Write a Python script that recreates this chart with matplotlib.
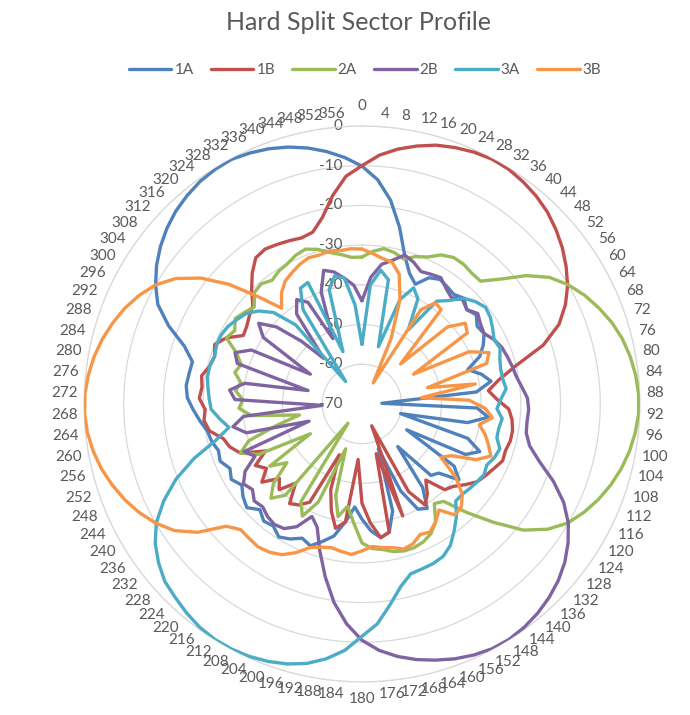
import matplotlib
matplotlib.use("Agg")
import matplotlib.pyplot as plt
import numpy as np

plt.rcParams['font.family'] = ['Lato', 'DejaVu Sans']

# ---------------- data ----------------
angles = list(range(0, 360, 4))          # category labels 0..356
r_ticks = [0, -10, -20, -30, -40, -50, -60, -70]
series_names = ['1A', '1B', '2A', '2B', '3A', '3B']

s1A = [-10.1, -13.4, -18.2, -24.5, -31, -35, -37, -34, -33, -33.5,
       -34, -33, -34.5, -33.5, -35, -34.5, -36, -38, -42, -39,
       -37, -41, -65, -41, -38, -43, -60, -42, -38, -41,
       -57, -42, -39, -44, -45, -56, -44, -39, -40, -46,
       -58, -42, -37, -36, -38, -41, -44, -40, -36, -34,
       -32, -33, -31.5, -30.5, -32, -31.5, -33, -31, -32, -33.5,
       -32, -33, -31.5, -32, -31, -30.5, -29, -27.5, -26, -25.5,
       -25.8, -26, -23, -17.5, -12.8, -10, -7.6, -5.6, -3.9, -2.5,
       -1.5, -0.7, -0.3, -0.2, -0.8, -1.6, -2.7, -4.1, -5.8, -7.8]

s1B = [-10, -7.2, -5.2, -3.6, -2.2, -1.3, -0.6, -0.2, -0.3, -0.9,
       -1.7, -2.8, -4.3, -6, -8, -10.2, -13, -16.5, -22, -30,
       -35, -38, -36, -33, -32, -31.5, -31.5, -32, -31.8, -33,
       -34, -35, -37, -39, -40, -45, -42, -40, -45, -64,
       -40, -57, -37, -36, -40, -45, -56, -40, -38, -42,
       -47, -56, -42, -40, -39, -44, -40, -42, -38, -41,
       -39, -43, -37, -35, -34, -31, -30, -30.5, -29, -29.5,
       -29, -30.5, -31, -30, -32, -35.5, -35, -34, -33, -30,
       -27, -24.5, -24, -24.5, -25, -25.5, -25, -22, -17, -12.5]

s2A = [-33, -31.5, -30.5, -31, -32, -30.5, -29.5, -27.5, -26.5, -26.5,
       -27, -27, -23, -17.5, -13, -10, -7.6, -5.6, -3.8, -2.4,
       -1.4, -0.7, -0.3, -0.3, -0.8, -1.6, -2.7, -4.1, -5.8, -7.8,
       -10.1, -13.6, -18.4, -25.5, -32, -38, -39, -35, -33, -32,
       -31.5, -31.5, -32, -33, -33.5, -35, -40, -44, -41, -46,
       -58, -43, -38, -41, -64, -40, -37, -40, -46, -42,
       -55, -41, -37, -40, -48, -54, -42, -39, -40, -38,
       -39, -37, -38, -36, -32, -33, -31.5, -32.5, -33.5, -31,
       -30.5, -31.5, -30.5, -30, -29, -28.5, -29.5, -31, -32, -33]

s2B = [-44, -38, -34.5, -33, -31, -32, -33.5, -33, -32.5, -34,
       -35, -33.5, -34.5, -33, -34, -34.5, -33, -32, -31.5, -31,
       -30.5, -29.5, -28.3, -28, -28.2, -28, -26.5, -23, -18, -13.5,
       -10, -7.4, -5.2, -3.5, -2.2, -1.2, -0.5, -0.1, -0.2, -0.8,
       -1.7, -2.9, -4.2, -5.8, -7.8, -10.5, -14.5, -19.5, -25.5, -31.5,
       -37, -39, -35, -33, -32.5, -33, -34, -33.5, -35, -34,
       -36, -40, -38, -56, -40, -37, -40, -60, -38, -36.5,
       -40, -56, -37, -35.5, -39, -55, -40, -37, -41, -48,
       -55, -42, -39, -41, -52, -40, -35, -36, -38, -40]

s3A = [-55, -40, -36, -38, -55, -42, -38, -40, -48, -38,
       -36, -33, -31.5, -30.5, -31, -32, -33, -32.5, -33.5, -34,
       -34, -33.5, -35, -36, -34.5, -35, -35, -33.5, -34, -35,
       -34.5, -35, -35.5, -36, -36, -33, -30.5, -28, -26.5, -26,
       -25.8, -25.5, -23, -19, -14.5, -11.5, -7.8, -5.2, -3.2, -1.9,
       -1, -0.4, -0.1, -0.1, -0.5, -1.3, -2.3, -3.2, -5, -7.2,
       -10.2, -14.5, -19.5, -25.5, -32, -36, -34, -32, -31.5, -31,
       -30.5, -30.5, -31, -30.5, -30.5, -31, -32, -33, -35, -38,
       -44, -63, -42, -37, -36.5, -56, -40, -37, -38, -45]

s3B = [-31, -32, -33, -33.5, -36, -42, -52, -64, -42, -38.5,
       -39, -56, -41, -37, -38, -55, -40, -35.5, -37, -53,
       -41, -55, -43, -39, -37, -40, -38, -36.5, -35, -38,
       -44, -46, -40, -36, -34, -33.5, -37, -35, -33.5, -34,
       -32.5, -32, -33, -33.5, -34, -33, -32, -32.5, -33, -32.5,
       -31.5, -29, -27, -26, -25.5, -25.8, -26, -24, -17.5, -13,
       -10, -7.6, -5.6, -3.9, -2.4, -1.3, -0.5, -0.1, -0.2, -0.7,
       -1.5, -2.6, -4, -5.6, -7.6, -10, -13.5, -18.5, -25, -32.5,
       -38.5, -35.5, -33.5, -32.5, -31.5, -30.8, -31, -30.6, -31, -30.8]

series_values = [s1A, s1B, s2A, s2B, s3A, s3B]
colors = ['#4F81BD', '#C0504D', '#9BBB59', '#8064A2', '#4BACC6', '#F79646']

TXT = '#595959'
GRID = '#d9d9d9'
FS = 11

# ---------------- figure ----------------
fig = plt.figure(figsize=(6.9, 7.15), dpi=100)
ax = fig.add_axes([0.1217, 0.0462, 0.8058, 0.7776], projection='polar')
ax.set_theta_zero_location('N')
ax.set_theta_direction(-1)
ax.set_ylim(-70, 0)
ax.set_yticks(r_ticks)
ax.set_yticklabels([])
ax.set_xticks([])
ax.yaxis.grid(True, color=GRID, linewidth=0.9)
ax.spines['polar'].set_color(GRID)
ax.spines['polar'].set_linewidth(0.9)

theta = np.deg2rad(angles + [angles[0]])
handles = []
for name, vals, col in zip(series_names, series_values, colors):
    v = list(vals) + [vals[0]]
    h, = ax.plot(theta, v, color=col, linewidth=2.4, label=name,
                 solid_joinstyle='round', solid_capstyle='round', zorder=3)
    handles.append(h)

# value axis labels (left of the vertical axis)
for rv in r_ticks:
    ax.annotate(str(rv), xy=(0, rv), xytext=(-14, 0), textcoords='offset points',
                ha='right', va='center', fontsize=FS, color=TXT, zorder=2,
                annotation_clip=False)

# category labels around the circle (box edge placed just outside the ring)
for a in angles:
    t = np.deg2rad(a)
    s, c = np.sin(t), np.cos(t)
    lab = str(a)
    w = len(lab) * 0.56 * FS
    hh = 0.78 * FS
    gap = 5.0
    if a == 0:
        gap = 10.0
    elif a == 180:
        gap = 8.0
    ox = gap * s + 0.5 * w * np.clip(s * 12.0, -1, 1)
    oy = gap * c + 0.5 * hh * np.clip(c * 3.0, -1, 1)
    ax.annotate(lab, xy=(t, 0), xytext=(ox, oy),
                textcoords='offset points', ha='center', va='center',
                fontsize=FS, color=TXT, annotation_clip=False)

fig.text(0.52, 0.968, 'Hard Split Sector Profile', ha='center', va='center',
         fontsize=18, color=TXT)

fig.legend(handles=handles, labels=series_names, loc='center',
           bbox_to_anchor=(0.529, 0.902), ncol=6, frameon=False,
           fontsize=FS, handlelength=2.8, handletextpad=0.2,
           columnspacing=1.1, labelcolor=TXT)

fig.savefig('out.png', dpi=100, facecolor='white')
